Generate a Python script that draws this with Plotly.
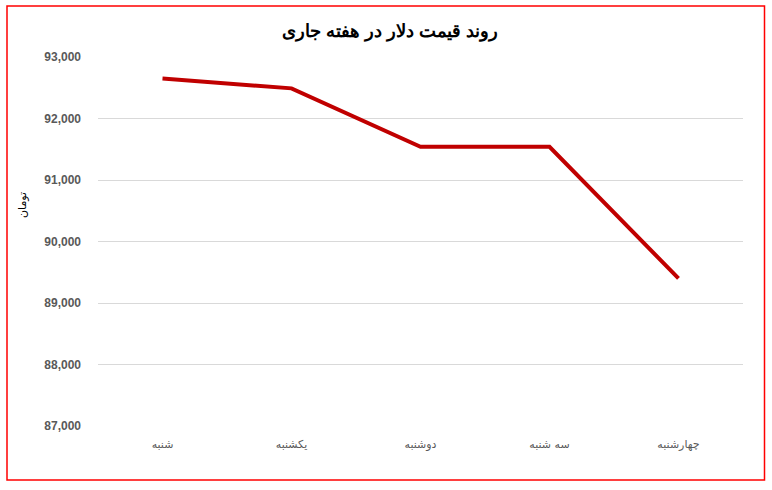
import plotly.graph_objects as go

days = ["شنبه", "یکشنبه", "دوشنبه", "سه شنبه", "چهارشنبه"]
prices = [92650, 92490, 91540, 91540, 89400]
y_ticks = [87000, 88000, 89000, 90000, 91000, 92000, 93000]
y_tick_labels = ["87,000", "88,000", "89,000", "90,000", "91,000", "92,000", "93,000"]
title_text = "روند قیمت دلار در هفته جاری"
y_title = "تومان"

fig = go.Figure()
fig.add_trace(go.Scatter(
    x=days, y=prices, mode="lines",
    line=dict(color="#C00000", width=4),
    hoverinfo="x+y",
))

W, H = 772, 490
L, R, T, B = 98, 29, 57, 64
pw, ph = W - L - R, H - T - B

def px_x(px):
    return (px - L) / pw

def px_y(py):
    return (H - B - py) / ph

fig.update_layout(
    width=W, height=H,
    margin=dict(l=L, r=R, t=T, b=B),
    paper_bgcolor="white", plot_bgcolor="white",
    showlegend=False,
    title=dict(text="<b>" + title_text + "</b>", x=(390) / W, xanchor="center",
               y=1 - 31 / H, yanchor="middle", yref="container",
               font=dict(family="Liberation Sans, Arial", size=18, color="#000000")),
    xaxis=dict(
        type="category", range=[-0.5, 4.5], showgrid=False, zeroline=False, showline=False,
        ticks="", ticklabelstandoff=10,
        tickfont=dict(family="DejaVu Sans, Arial", size=11, color="#595959"),
    ),
    yaxis=dict(
        range=[87000, 93000], tickvals=y_ticks, ticktext=y_tick_labels,
        showgrid=True, gridcolor="#d9d9d9", gridwidth=1, zeroline=False,
        showline=False, ticks="", ticklabelstandoff=16,
        tickfont=dict(family="Liberation Sans, Arial", size=12, color="#595959", weight="bold"),
    ),
    annotations=[dict(
        text=y_title, textangle=-90, xref="paper", yref="paper",
        x=px_x(22), y=px_y(205), showarrow=False, xanchor="center", yanchor="middle",
        font=dict(family="DejaVu Sans, Arial", size=11, color="#000000"),
    )],
    shapes=[dict(
        type="rect", xref="paper", yref="paper",
        x0=px_x(7), x1=px_x(764.5), y0=px_y(480), y1=px_y(6),
        line=dict(color="#FF0000", width=1.5), fillcolor="rgba(0,0,0,0)", layer="below",
    )],
)

fig.write_html("out.html", config={"displayModeBar": False},
               post_script="document.body.style.margin='0';")
